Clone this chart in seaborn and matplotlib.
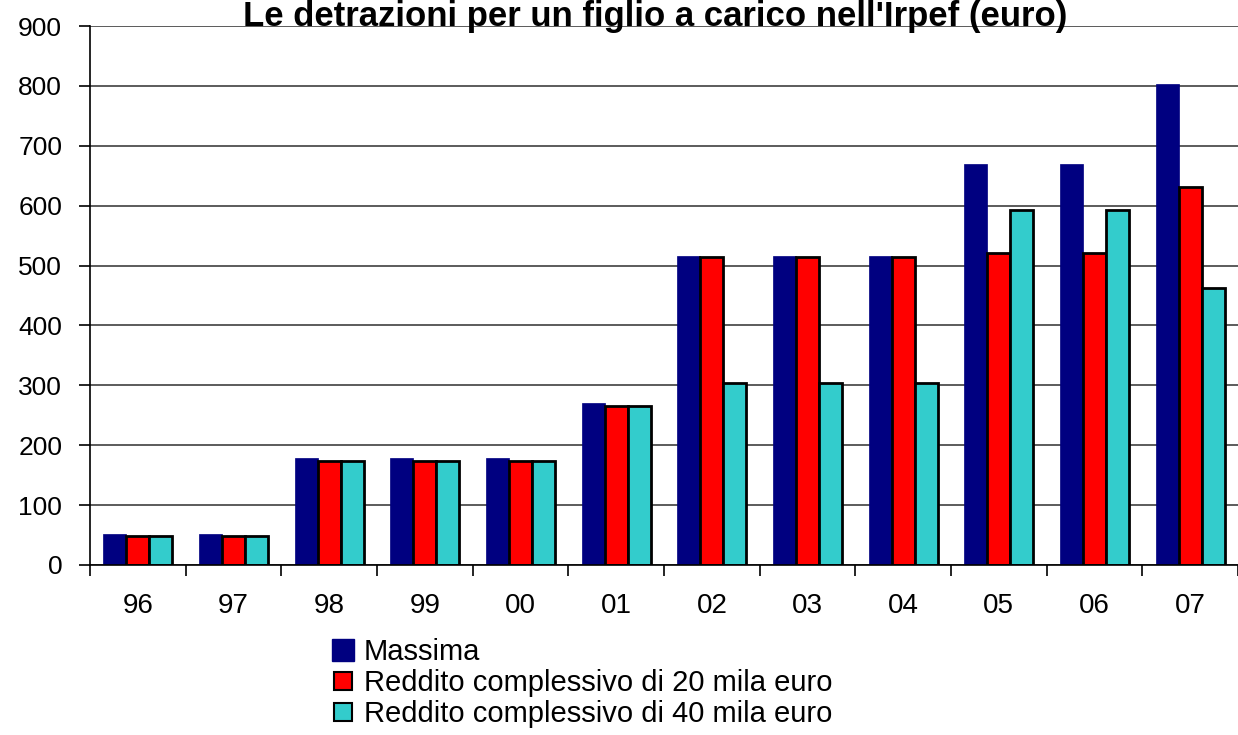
import matplotlib
matplotlib.use("Agg")
import matplotlib.pyplot as plt
import numpy as np
import pandas as pd
import seaborn as sns
from matplotlib.lines import Line2D

# ---------------------------------------------------------------------------
# Data
# ---------------------------------------------------------------------------
years = ["96", "97", "98", "99", "00", "01", "02", "03", "04", "05", "06", "07"]
series = [
    "Massima",
    "Reddito complessivo di 20 mila euro",
    "Reddito complessivo di 40 mila euro",
]
massima = [51.6, 51.6, 178.0, 178.0, 178.0, 270.0, 516.5, 516.5, 516.5, 669.0, 669.0, 803.0]
reddito_20 = [48.0, 48.0, 173.6, 173.6, 173.6, 266.0, 513.5, 513.5, 513.5, 521.0, 521.0, 632.0]
reddito_40 = [48.0, 48.0, 173.6, 173.6, 173.6, 266.0, 303.5, 303.5, 303.5, 592.0, 592.0, 463.0]
y_ticks = [0, 100, 200, 300, 400, 500, 600, 700, 800, 900]

colors = ["#000080", "#FF0000", "#33CCCC"]
edges = ["#000080", "black", "black"]

df = pd.DataFrame({
    "anno": years * 3,
    "serie": np.repeat(series, len(years)),
    "euro": massima + reddito_20 + reddito_40,
})

# ---------------------------------------------------------------------------
# Plot
# ---------------------------------------------------------------------------
sns.set_theme(style="white")
plt.rcParams["font.family"] = ["Liberation Sans", "DejaVu Sans"]
plt.rcParams.update({"text.color": "black", "xtick.color": "black",
                     "ytick.color": "black", "axes.labelcolor": "black"})

fig = plt.figure(figsize=(12.38, 7.35), dpi=100)
ax = fig.add_axes([0.0727, 0.2313, 0.9273, 0.7333])

sns.barplot(
    data=df, x="anno", y="euro", hue="serie", order=years, hue_order=series,
    palette=colors, width=0.72, gap=0, saturation=1, legend=False, ax=ax,
)
for cont, ec in zip(ax.containers, edges):
    for bar in cont:
        bar.set_edgecolor(ec)
        bar.set_linewidth(2.0 if ec == "black" else 0.5)
        bar.set_zorder(3)

ax.set_xlim(-0.5, len(years) - 0.5)
ax.set_ylim(0, 900)
ax.set_yticks(y_ticks)
ax.set_xlabel("")
ax.set_ylabel("")
ax.grid(axis="y", color="#404040", linewidth=1.2, zorder=0)
ax.set_axisbelow(True)

for side in ["top", "right"]:
    ax.spines[side].set_visible(False)
for side in ["left", "bottom"]:
    ax.spines[side].set_color("black")
    ax.spines[side].set_linewidth(1.2)
    ax.spines[side].set_zorder(4)

ax.tick_params(axis="y", which="major", left=True, length=8, width=1.2,
               color="black", labelsize=19, pad=12)
ax.tick_params(axis="x", which="major", bottom=False, labelsize=20, pad=14)
ax.set_xticks(np.arange(-0.5, len(years), 1.0), minor=True)
ax.tick_params(axis="x", which="minor", bottom=True, length=8, width=1.2,
               color="black")

fig.text(0.529, 1 - 26 / 735, "Le detrazioni per un figlio a carico nell'Irpef (euro)",
         ha="center", va="baseline", fontsize=25, fontweight="bold")

handles = [
    Line2D([], [], ls="", marker="s", markersize=16, markerfacecolor=colors[0],
           markeredgecolor=edges[0]),
    Line2D([], [], ls="", marker="s", markersize=12.5, markerfacecolor=colors[1],
           markeredgecolor=edges[1], markeredgewidth=1.5),
    Line2D([], [], ls="", marker="s", markersize=12.5, markerfacecolor=colors[2],
           markeredgecolor=edges[2], markeredgewidth=1.5),
]
fig.legend(handles, series, loc="upper left", bbox_to_anchor=(0.268, 0.132),
           frameon=False, fontsize=21, handlelength=0.8, handletextpad=0.3,
           labelspacing=0.1, borderpad=0, borderaxespad=0)

fig.savefig("out.png", dpi=100)
